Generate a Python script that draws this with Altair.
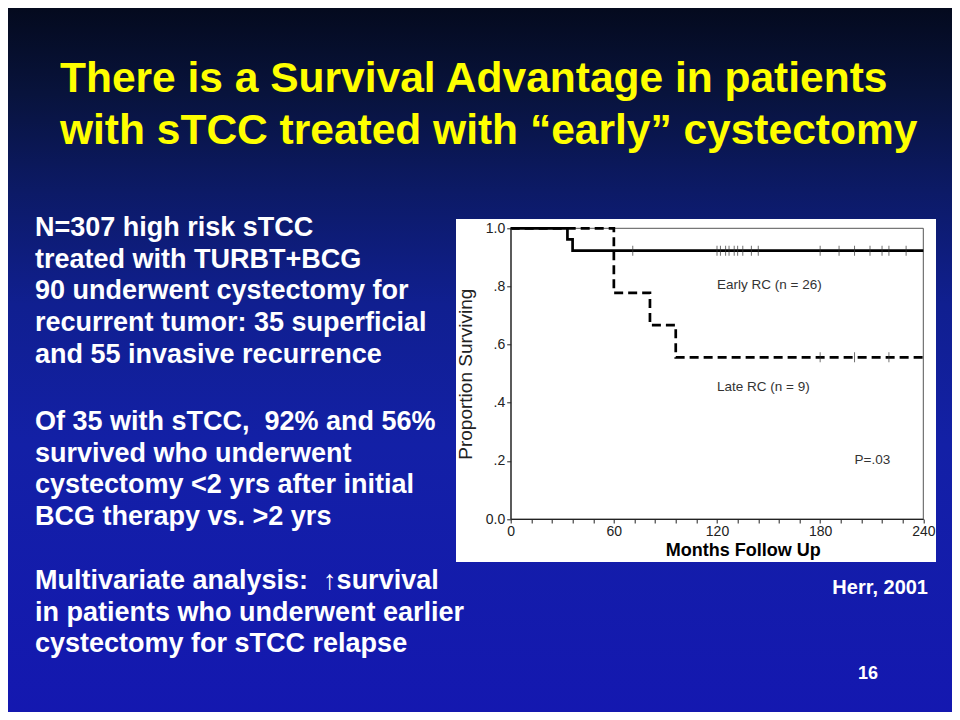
import altair as alt
import pandas as pd

# ---------------- data ----------------
title_lines = ["There is a Survival Advantage in patients",
               "with sTCC treated with \u201cearly\u201d cystectomy"]
para1 = ["N=307 high risk sTCC",
         "treated with TURBT+BCG",
         "90 underwent cystectomy for",
         "recurrent tumor: 35 superficial",
         "and 55 invasive recurrence"]
para2 = ["Of 35 with sTCC,\u00a0 92% and 56%",
         "survived who underwent",
         "cystectomy <2 yrs after initial",
         "BCG therapy vs. >2 yrs"]
para3 = ["Multivariate analysis:\u00a0 \u2191survival",
         "in patients who underwent earlier",
         "cystectomy for sTCC relapse"]
citation = "Herr, 2001"
slide_no = "16"

early_time = [0, 33, 36, 240]
early_surv = [1.0, 0.962, 0.923, 0.923]
late_time = [0, 60, 81, 96, 240]
late_surv = [1.0, 0.778, 0.667, 0.556, 0.556]
early_censor = [71, 120, 122, 125, 127, 130, 132, 135, 140, 144,
                180, 191, 200, 209, 216, 220, 230]
late_censor = [180, 200, 220]

x_ticks = list(range(0, 241, 12))
y_ticks = [0.0, 0.2, 0.4, 0.6, 0.8, 1.0]

curve_labels = ["Early RC (n = 26)", "Late RC (n = 9)", "P=.03"]
label_time = [120, 120, 200]
label_surv = [0.806, 0.454, 0.204]


def surv_at(times, survs, t):
    s = survs[0]
    for ti, si in zip(times, survs):
        if ti <= t:
            s = si
    return s


# ---------------- geometry (page pixels) ----------------
PL, PT, W, H = 510.7, 228.3, 412.6, 290.7


def px(X):
    return X - PL


def py(Y):
    return Y - PT


FONT = "Liberation Sans"

early_df = pd.DataFrame({"t": early_time, "s": early_surv})
late_df = pd.DataFrame({"t": late_time, "s": late_surv})
ecens_df = pd.DataFrame({"t": early_censor,
                         "s": [surv_at(early_time, early_surv, t) for t in early_censor]})
lcens_df = pd.DataFrame({"t": late_censor,
                         "s": [surv_at(late_time, late_surv, t) for t in late_censor]})
lab_df = pd.DataFrame({"t": label_time, "s": label_surv, "label": curve_labels})
frame_df = pd.DataFrame({"t": [0], "t2": [240], "s": [0.0], "s2": [1.0]})

x_enc = alt.X("t:Q", scale=alt.Scale(domain=[0, 240], nice=False, zero=True),
              axis=alt.Axis(values=x_ticks,
                            labelExpr="datum.value % 60 == 0 ? datum.value : ''",
                            grid=False, zindex=1, tickSize=4, tickColor="#222",
                            domainColor="#222", labelColor="#222", labelFont=FONT,
                            labelFontSize=14, labelPadding=1, labelFlush=False,
                            title="Months Follow Up", titleFont=FONT,
                            titleFontSize=18, titleFontWeight="bold", titleColor="black",
                            titleX=742.7 - PL, titleY=550 - (PT + H),
                            titleAlign="center", titleBaseline="middle"))
y_enc = alt.Y("s:Q", scale=alt.Scale(domain=[0, 1], nice=False),
              axis=alt.Axis(values=y_ticks,
                            labelExpr="datum.value == 0 ? '0.0' : (datum.value == 1 ? '1.0' : replace(format(datum.value, '.1f'), '0.', '.'))",
                            grid=False, zindex=1, tickSize=4, tickColor="#222",
                            domainColor="#222", labelColor="#222", labelFont=FONT,
                            labelFontSize=14, labelPadding=2, labelFlush=False,
                            title="Proportion Surviving", titleFont=FONT,
                            titleFontSize=19, titleFontWeight="normal", titleColor="#222",
                            titleX=465 - PL, titleY=H / 2, titleAngle=270,
                            titleAlign="center", titleBaseline="middle"))

one = alt.Data(values=[{}])

bg = alt.Chart(one).mark_rect(
    color=alt.LinearGradient(
        gradient="linear", x1=0, y1=0, x2=0, y2=1,
        stops=[alt.GradientStop(offset=0.0, color="#040a1e"),
               alt.GradientStop(offset=0.12, color="#08133c"),
               alt.GradientStop(offset=0.26, color="#0c1a66"),
               alt.GradientStop(offset=0.42, color="#101f90"),
               alt.GradientStop(offset=0.62, color="#1320a6"),
               alt.GradientStop(offset=1.0, color="#1418b0")])
).encode(x=alt.value(px(8)), x2=alt.value(px(952)),
         y=alt.value(py(8)), y2=alt.value(py(712)))

panel = alt.Chart(one).mark_rect(color="white").encode(
    x=alt.value(px(456)), x2=alt.value(px(936)),
    y=alt.value(py(219)), y2=alt.value(py(562)))

frame = alt.Chart(frame_df).mark_rect(fill=None, stroke="#555", strokeWidth=1).encode(
    x=x_enc, x2="t2:Q", y=y_enc, y2="s2:Q")

early_line = alt.Chart(early_df).mark_line(
    interpolate="step-after", color="black", strokeWidth=2.7).encode(x=x_enc, y=y_enc)
late_line = alt.Chart(late_df).mark_line(
    interpolate="step-after", color="black", strokeWidth=2.7,
    strokeDash=[9, 5]).encode(x=x_enc, y=y_enc)

ecens = alt.Chart(ecens_df).mark_tick(orient="vertical", size=10, thickness=1,
                                      color="#333").encode(x=x_enc, y=y_enc)
lcens = alt.Chart(lcens_df).mark_tick(orient="vertical", size=10, thickness=1,
                                      color="#333").encode(x=x_enc, y=y_enc)

labels = alt.Chart(lab_df).mark_text(
    align="left", baseline="middle", font=FONT,
    fontSize=13.5, color="#333").encode(x=x_enc, y=y_enc, text="label:N")


def slide_text(lines, X, Y, size, color, lh, weight="bold", align="left"):
    return alt.Chart(one).mark_text(
        align=align, baseline="alphabetic", font=FONT, fontWeight=weight,
        fontSize=size, color=color, lineHeight=lh
    ).encode(x=alt.value(px(X)), y=alt.value(py(Y)), text=alt.value(lines))


title = slide_text(title_lines, 60, 92, 42.5, "#ffff00", 52)
p1 = slide_text(para1, 35, 236, 27, "white", 31.7)
p2 = slide_text(para2, 35, 430, 27, "white", 31.5)
p3 = slide_text(para3, 35, 589, 27, "white", 31.5)
cite = slide_text(citation, 928, 594, 20, "white", 20, align="right")
num = slide_text(slide_no, 868, 679, 18, "white", 18, align="center")

chart = alt.layer(
    bg, panel, frame, early_line, late_line, ecens, lcens, labels,
    title, p1, p2, p3, cite, num
).properties(
    width=W, height=H,
    padding={"left": PL - 8, "top": PT - 8, "right": 952 - (PL + W), "bottom": 712 - (PT + H)},
    autosize=alt.AutoSizeParams(type="none"),
    background="#1418b0",
).configure_view(stroke=None)

chart.save("out.html", embed_options={"renderer": "svg", "actions": False})
